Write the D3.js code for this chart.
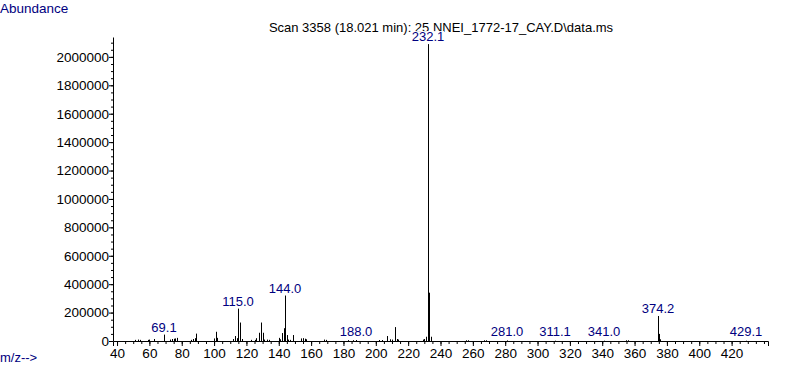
<!DOCTYPE html>
<html>
<head>
<meta charset="utf-8">
<script src="https://cdn.jsdelivr.net/npm/d3@7"></script>
<style>
  body { margin: 0; background: #fff; }
  svg { font-family: "Liberation Sans", Arial, sans-serif; }
</style>
</head>
<body>
<div id="chart"></div>
<script>
// size setup
var w = 787;
var h = 367;

// peak list (m/z, abundance)
var mzValues = [51, 53, 54, 59, 60, 63, 69.1, 73, 74, 75, 76, 77, 86, 87, 88, 89,
    100, 101, 102, 112, 113, 114, 115, 116, 117, 123, 125, 126, 128, 129, 130,
    131, 133, 134, 140, 141, 142, 143, 144, 145, 146, 147, 149, 154, 155, 156, 157,
    168, 169, 183, 186, 188, 202, 204, 207, 209, 210, 212, 213, 214, 229, 230, 231,
    232.1, 233, 234, 256, 257, 267, 268, 281, 311.1, 341, 355, 356, 374.2, 375, 376, 429.1];
var abundances = [8000, 10000, 8000, 8000, 10000, 14000, 45000, 10000, 14000, 16000, 18000, 22000, 8000, 14000, 20000, 52000,
    18000, 65000, 22000, 14000, 35000, 20000, 228000, 130000, 14000, 8000, 8000, 20000, 58000, 130000, 58000,
    10000, 10000, 8000, 22000, 12000, 56000, 90000, 320000, 42000, 10000, 8000, 42000, 18000, 20000, 16000, 12000,
    10000, 8000, 6000, 6000, 7000, 7000, 7000, 35000, 12000, 10000, 98000, 14000, 10000, 10000, 14000, 30000,
    2090000, 340000, 30000, 5000, 5000, 5000, 5000, 4000, 2000, 2000, 5000, 5000, 176000, 50000, 12000, 2000];

// annotated peaks
var labelMz = [69.1, 115.0, 144.0, 188.0, 232.1, 281.0, 311.1, 341.0, 374.2, 429.1];
var labelText = ["69.1", "115.0", "144.0", "188.0", "232.1", "281.0", "311.1", "341.0", "374.2", "429.1"];

// tick values
var xMajorTicks = d3.range(40, 421, 20);
var xMinorTicks = d3.range(40, 441, 5);
var yMajorTicks = d3.range(0, 2000001, 200000);
var yMinorTicks = d3.range(0, 2100001, 50000);

var titleText = "Scan 3358 (18.021 min): 25 NNEI_1772-17_CAY.D\\data.ms";
var navy = "#000080";

var peaks = mzValues.map((m, i) => ({ mz: m, value: abundances[i] }));

// scales
var xScale = d3.scaleLinear()
    .domain([37.5, 442.5])
    .range([113, 768]);

var yScale = d3.scaleLinear()
    .domain([0, 2140000])
    .range([341, 37]);

var svg = d3.select("#chart")
    .append("svg")
    .attr("width", w)
    .attr("height", h);

// title
svg.append("text")
    .attr("x", 441)
    .attr("y", 32)
    .attr("text-anchor", "middle")
    .style("font-size", "13px")
    .attr("fill", "#000")
    .text(titleText);

// axis captions
svg.append("text")
    .attr("x", 0)
    .attr("y", 13)
    .style("font-size", "13.5px")
    .attr("fill", navy)
    .text("Abundance");

svg.append("text")
    .attr("x", 0)
    .attr("y", 362)
    .style("font-size", "13px")
    .attr("fill", navy)
    .text("m/z-->");

// y axis (minor then major)
svg.append("g")
    .attr("transform", "translate(113,0)")
    .call(d3.axisLeft(yScale).tickValues(yMinorTicks).tickSize(2).tickFormat(""))
    .call(g => g.select(".domain").remove());

var yAxis = svg.append("g")
    .attr("transform", "translate(113,0)")
    .call(d3.axisLeft(yScale)
        .tickValues(yMajorTicks)
        .tickSizeInner(4)
        .tickSizeOuter(0)
        .tickPadding(0)
        .tickFormat(d3.format("d")));
yAxis.selectAll("text").style("font-size", "13.5px").attr("fill", "#000");
yAxis.select(".domain").attr("stroke", "#000");

// x axis (minor then major)
svg.append("g")
    .attr("transform", "translate(0,341)")
    .call(d3.axisBottom(xScale).tickValues(xMinorTicks).tickSize(3).tickFormat(""))
    .call(g => g.select(".domain").remove());

var xAxis = svg.append("g")
    .attr("transform", "translate(0,341)")
    .call(d3.axisBottom(xScale)
        .tickValues(xMajorTicks)
        .tickSizeInner(5)
        .tickSizeOuter(5)
        .tickPadding(2));
xAxis.selectAll("text").style("font-size", "13.5px").attr("fill", "#000");

// peaks as vertical sticks
svg.append("g")
    .selectAll("line")
    .data(peaks)
    .enter()
    .append("line")
    .attr("x1", d => Math.round(xScale(d.mz)) + 0.5)
    .attr("x2", d => Math.round(xScale(d.mz)) + 0.5)
    .attr("y1", yScale(0))
    .attr("y2", d => yScale(d.value))
    .attr("stroke", "#000")
    .attr("stroke-width", 1);

// peak labels with white box behind them
var labelGroups = svg.append("g")
    .selectAll("g")
    .data(labelMz)
    .enter()
    .append("g");

labelGroups.each(function(m, i) {
    var g = d3.select(this);
    var peak = peaks.find(p => p.mz === m) || { value: 0 };
    var x = Math.round(xScale(m));
    var y = Math.min(yScale(peak.value), yScale(0) - 2) - 3;
    var rect = g.append("rect").attr("fill", "#fff");
    var t = g.append("text")
        .attr("x", x)
        .attr("y", y)
        .attr("text-anchor", "middle")
        .style("font-size", "13px")
        .attr("fill", navy)
        .text(labelText[i]);
    var bb = t.node().getBBox();
    rect.attr("x", bb.x)
        .attr("y", bb.y + 2)
        .attr("width", bb.width)
        .attr("height", bb.height - 3);
});
</script>
</body>
</html>
